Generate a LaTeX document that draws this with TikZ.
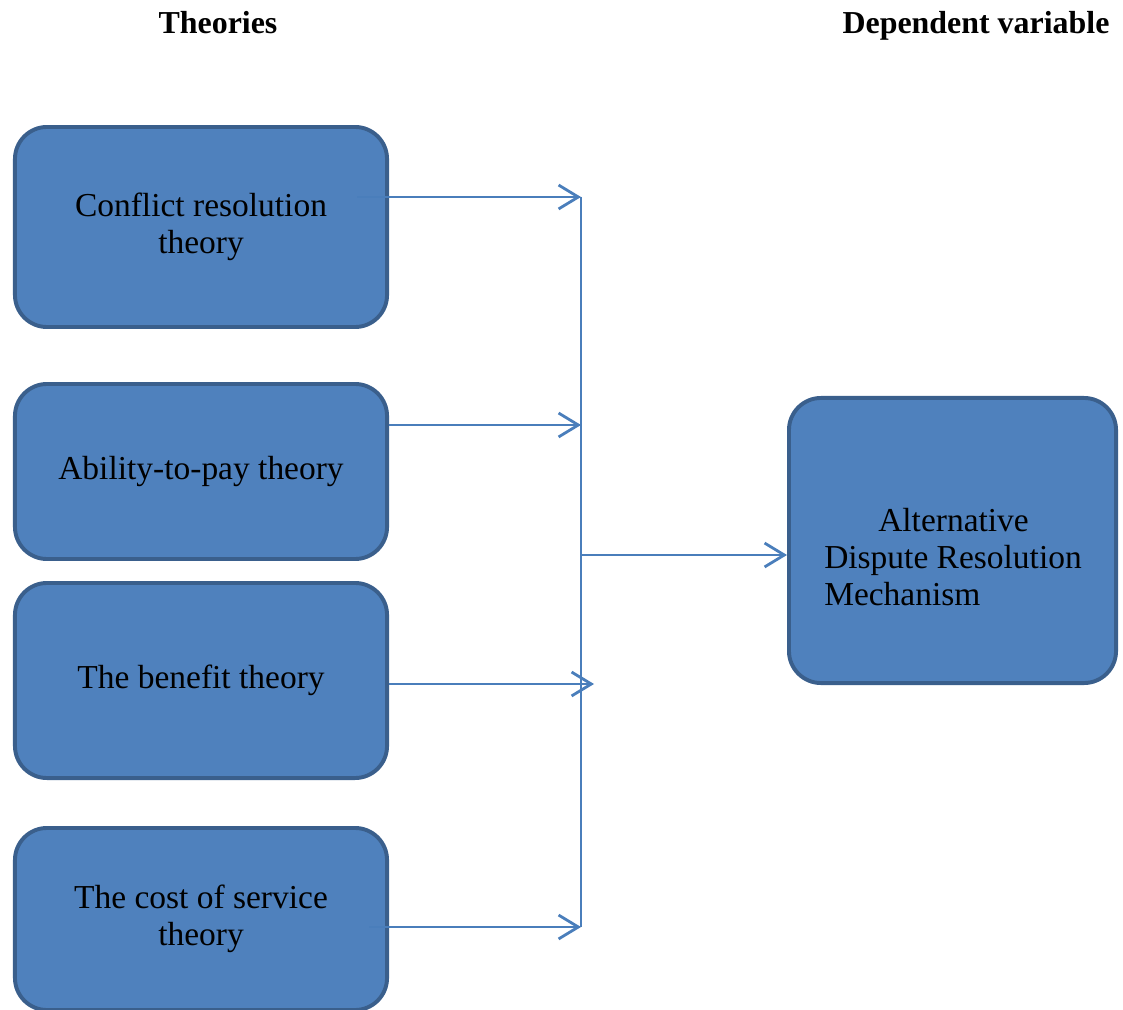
\documentclass[tikz,border=0pt]{standalone}
\usepackage{fontspec}
\setmainfont{Liberation Serif}
\usetikzlibrary{arrows.meta, positioning, calc}
\definecolor{boxfill}{HTML}{4F81BD}
\definecolor{boxline}{HTML}{3A5F8C}
\definecolor{flowline}{HTML}{4A7EBB}

\begin{document}
\begin{tikzpicture}[x=0.025cm, y=-0.025cm,
  theory/.style={draw=boxline, line width=2.8pt, fill=boxfill, rounded corners=0.8cm,
    minimum width=9.3cm, align=center, font=\fontsize{23.8}{26.5}\selectfont},
  head/.style={anchor=base, font=\fontsize{22.7}{26}\selectfont\bfseries},
  link/.style={flowline, line width=1.8pt},
  flow/.style={link, -{Straight Barb[length=14pt, width=17pt, line width=2pt]}}
]
  \useasboundingbox (0,0) rectangle (1123,1010);

  % headings
  \node[head] (hdtheo) at (218,34) {Theories};
  \node[head] (hddep) at (976,34) {Dependent variable};

  % theory boxes
  \node[theory, minimum height=5cm] (conflict) at (201,227) {Conflict resolution\\theory};
  \node[theory, minimum height=4.375cm] (ability) at (201,471.5) {Ability-to-pay theory};
  \node[theory, minimum height=4.875cm] (benefit) at (201,680.5) {The benefit theory};
  \node[theory, minimum height=4.55cm] (cost) at (201,919) {The cost of service\\theory};

  % dependent variable
  \node[theory, minimum width=8.175cm, minimum height=7.125cm] (adr) at (952.5,540.5) {};
  \node[align=left, font=\fontsize{23.8}{26.5}\selectfont] (adrtext) at (953,557)
    {\hspace*{1.35cm}Alternative\\Dispute Resolution\\Mechanism};

  % connectors
  \coordinate (jtop) at (581,197);
  \coordinate (jtwo) at (581,425);
  \coordinate (jthree) at (594,684);
  \coordinate (jbot) at (581,927);
  \coordinate (jmid) at (581,555);

  \draw[link] (jtop) -- (jbot);
  \draw[flow] ($(conflict.east |- jtop)+(-32,0)$) -- (jtop);
  \draw[flow] (ability.east |- jtwo) -- (jtwo);
  \draw[flow] (benefit.east |- jthree) -- (jthree);
  \draw[flow] ($(cost.east |- jbot)+(-20,0)$) -- (jbot);
  \draw[flow] (jmid) -- (adr.west |- jmid);
\end{tikzpicture}
\end{document}
